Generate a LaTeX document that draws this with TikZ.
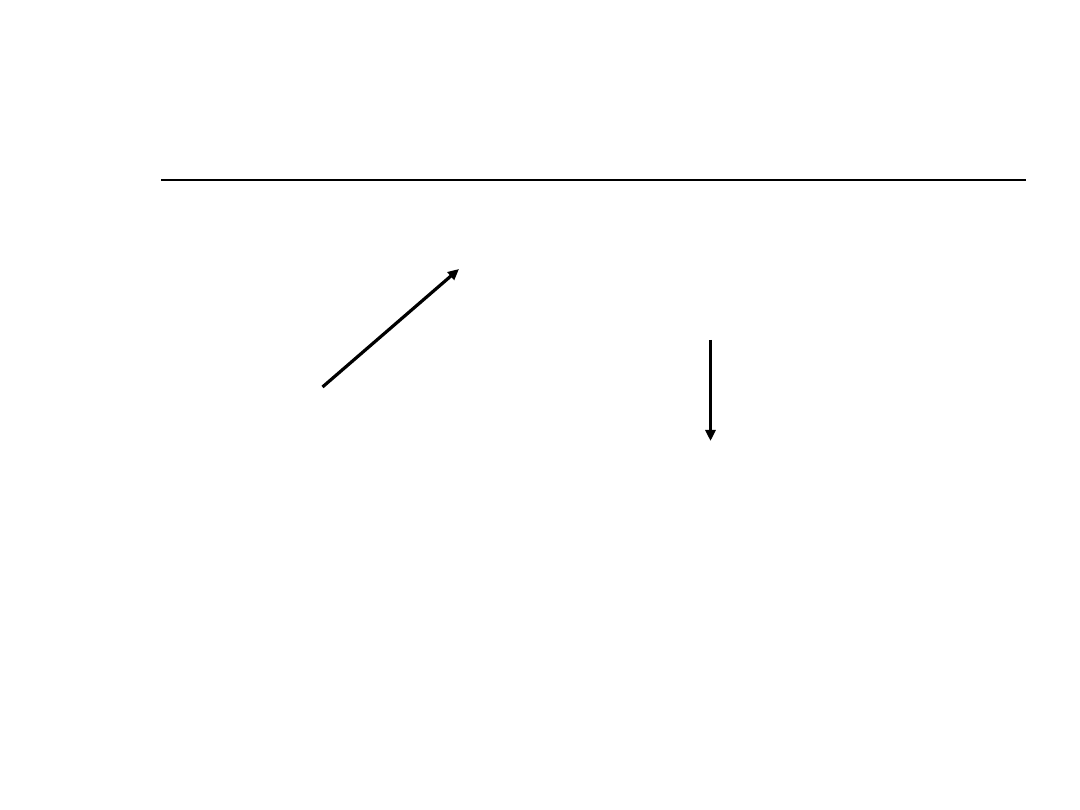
\documentclass[tikz,border=0pt]{standalone}
\usepackage{tikz}
\usetikzlibrary{arrows.meta}

\begin{document}
\begin{tikzpicture}[x=1pt,y=-1pt]
        \useasboundingbox (0,0) rectangle (1080,810);
        % Draw the top line
        \coordinate (lineL) at (161,180);
        \coordinate (lineR) at (1026,180);
        \draw[line width=2pt] (lineL) -- (lineR);
        
        % Place the two arrows
        \coordinate (diagA) at (322.5,387);
        \coordinate (diagB) at (459,269);
        \draw[line width=3.2pt, -{Triangle[length=11pt,width=10pt]}] (diagA) -- (diagB);
        
        \coordinate (vertA) at (710.5,340);
        \coordinate (vertB) at (710.5,441);
        \draw[line width=3.2pt, -{Triangle[length=11pt,width=10pt]}] (vertA) -- (vertB);
    \end{tikzpicture}
\end{document}
